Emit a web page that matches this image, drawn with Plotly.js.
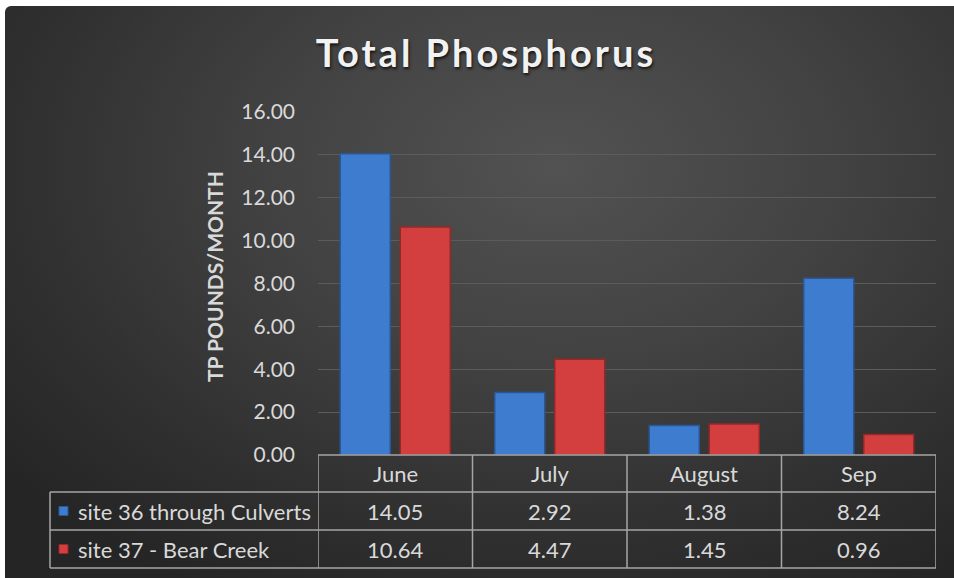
<!DOCTYPE html>
<html>
<head>
<meta charset="utf-8">
<script src="https://cdn.plot.ly/plotly-3.0.1.min.js"></script>
<style>
  html, body { margin:0; padding:0; background:#ffffff; }
  #wrap { position:relative; width:954px; height:578px; overflow:hidden; }
  #bg { position:absolute; left:5px; top:6px; width:949px; height:572px; border-radius:6px 0 0 0;
        background: radial-gradient(ellipse 75% 85% at 58% 28%, #525252 0%, #424242 40%, #303030 75%, #252525 100%); }
  #chart { position:absolute; left:0; top:0; width:954px; height:578px; }
  .gtitle { letter-spacing: 3px; }
</style>
</head>
<body>
<div id="wrap">
  <div id="bg"></div>
  <div id="chart"></div>
</div>
<script>
// ---- data ----
const months = ['June', 'July', 'August', 'Sep'];
const seriesNames = ['site 36 through Culverts', 'site 37 - Bear Creek'];
const site36 = [14.05, 2.92, 1.38, 8.24];
const site37 = [10.64, 4.47, 1.45, 0.96];
const yTickVals = [0, 2, 4, 6, 8, 10, 12, 14, 16];
const yTitle = 'TP POUNDS/MONTH';
const chartTitle = 'Total Phosphorus';

// ---- style ----
const W = 954, H = 578;
const M = { l: 318, r: 18, t: 112, b: 123 };
const plotH = H - M.t - M.b;
const plotW = W - M.l - M.r;
const txtColor = '#d9d9d9';
const lineColor = '#a6a6a6';
const fontFam = 'Lato, "Open Sans", sans-serif';
const blue = '#3d7cce', blueEdge = '#2a5896';
const red = '#d33e3e', redEdge = '#962828';

// helpers: pixel -> paper
const py = (px) => (H - M.b - px) / plotH;   // px measured from top
const pxX = (px) => (px - M.l) / plotW;

const rowTop = [455, 492, 530, 568];   // header, row1, row2 boundaries
const tableLeft = 50;

const traces = [
  { type: 'bar', x: months, y: site36, name: seriesNames[0],
    marker: { color: blue, line: { color: blueEdge, width: 1.5 } }, hoverinfo: 'skip' },
  { type: 'bar', x: months, y: site37, name: seriesNames[1],
    marker: { color: red, line: { color: redEdge, width: 1.5 } }, hoverinfo: 'skip' }
];

const shapes = [];
const ln = (x0, y0, x1, y1, xref) => shapes.push({ type: 'line', xref: xref, yref: 'paper',
  x0: x0, x1: x1, y0: y0, y1: y1, line: { color: lineColor, width: 1.5 }, layer: 'above' });

ln(0, py(rowTop[0]), 1, py(rowTop[0]), 'paper');
for (let i = 1; i < rowTop.length; i++) ln(pxX(tableLeft), py(rowTop[i]), 1, py(rowTop[i]), 'paper');
ln(pxX(tableLeft), py(rowTop[1]), pxX(tableLeft), py(rowTop[3]), 'paper');
for (let k = 0; k <= months.length; k++) ln(k - 0.5, py(rowTop[0]), k - 0.5, py(rowTop[3]), 'x');

const annotations = [];
const rowMid = (i) => py((rowTop[i] + rowTop[i + 1]) / 2);
const tfont = { family: fontFam, size: 22, color: txtColor };
months.forEach((m, k) => {
  annotations.push({ xref: 'x', yref: 'paper', x: m, y: rowMid(0), text: m, showarrow: false, font: tfont, yanchor: 'middle' });
  annotations.push({ xref: 'x', yref: 'paper', x: m, y: rowMid(1), text: site36[k].toFixed(2), showarrow: false, font: tfont, yanchor: 'middle' });
  annotations.push({ xref: 'x', yref: 'paper', x: m, y: rowMid(2), text: site37[k].toFixed(2), showarrow: false, font: tfont, yanchor: 'middle' });
});
[[seriesNames[0], blue, blueEdge], [seriesNames[1], red, redEdge]].forEach((s, i) => {
  annotations.push({ xref: 'paper', yref: 'paper', x: pxX(76), y: rowMid(i + 1), text: s[0],
    showarrow: false, font: tfont, xanchor: 'left', yanchor: 'middle' });
  const yc = (rowTop[i + 1] + rowTop[i + 2]) / 2;
  shapes.push({ type: 'rect', xref: 'paper', yref: 'paper',
    x0: pxX(59), x1: pxX(68), y0: py(yc - 4.5), y1: py(yc + 4.5),
    fillcolor: s[1], line: { color: s[2], width: 1 }, layer: 'above' });
});
// y-axis title
annotations.push({ xref: 'paper', yref: 'paper', x: pxX(214), y: py(277), text: yTitle, textangle: -90,
  showarrow: false, xanchor: 'center', yanchor: 'middle',
  font: { family: fontFam, size: 21, weight: 'bold', color: txtColor } });

const layout = {
  width: W, height: H,
  margin: M,
  paper_bgcolor: 'rgba(0,0,0,0)',
  plot_bgcolor: 'rgba(0,0,0,0)',
  showlegend: false,
  barmode: 'group',
  bargap: 0.223,
  bargroupgap: 0.167,
  title: {
    text: chartTitle,
    font: { family: fontFam, size: 38, weight: 'bold', color: '#f2f2f2', shadow: '1px 2px 3px rgba(0,0,0,0.75)' },
    xref: 'container', yref: 'container', x: 486 / W, y: 1 - 53.5 / H,
    xanchor: 'center', yanchor: 'middle'
  },
  xaxis: {
    type: 'category', categoryarray: months, range: [-0.5, months.length - 0.5],
    showticklabels: false, showgrid: false, zeroline: false, showline: false, ticks: ''
  },
  yaxis: {
    range: [0, 16], tickvals: yTickVals, tickformat: '.2f',
    showgrid: true, gridcolor: '#5c5c5c', gridwidth: 1,
    zeroline: false, showline: false, ticks: '',
    ticklabelstandoff: 22,
    tickfont: { family: fontFam, size: 21, color: txtColor }
  },
  shapes: shapes,
  annotations: annotations
};

Plotly.newPlot('chart', traces, layout, { staticPlot: true, displayModeBar: false });
</script>
</body>
</html>
